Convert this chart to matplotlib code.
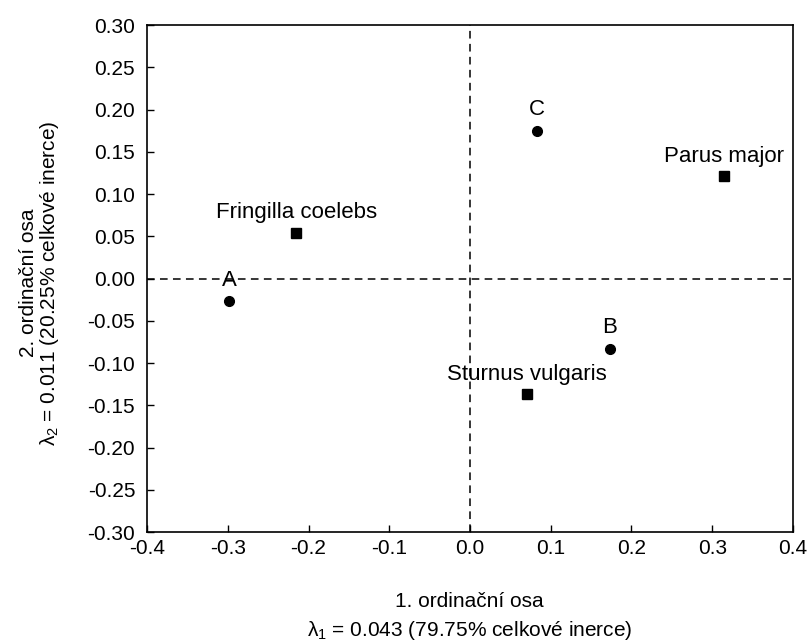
import matplotlib
matplotlib.use("Agg")
import matplotlib.pyplot as plt

plt.rcParams["font.family"] = ["Liberation Sans", "DejaVu Sans"]
plt.rcParams["mathtext.fontset"] = "custom"
plt.rcParams["mathtext.rm"] = "Liberation Sans"
plt.rcParams["mathtext.it"] = "Liberation Sans"

# samples (circles)
site_names = ["A", "B", "C"]
site_x = [-0.298, 0.173, 0.083]
site_y = [-0.027, -0.083, 0.175]

# species (squares)
species_names = ["Fringilla coelebs", "Parus major", "Sturnus vulgaris"]
species_x = [-0.215, 0.315, 0.071]
species_y = [0.054, 0.121, -0.137]

x_ticks = [-0.4, -0.3, -0.2, -0.1, 0.0, 0.1, 0.2, 0.3, 0.4]
y_ticks = [-0.30, -0.25, -0.20, -0.15, -0.10, -0.05, 0.00, 0.05, 0.10, 0.15, 0.20, 0.25, 0.30]

fig = plt.figure(figsize=(8.1, 6.43), dpi=100)
ax = fig.add_axes([0.1815, 0.1726, 0.7975, 0.7884])

# reference lines through origin
ax.axhline(0, color="black", linestyle=(0, (5, 3.5)), linewidth=1.1, zorder=1)
ax.axvline(0, color="black", linestyle=(0, (5, 3.5)), linewidth=1.1, zorder=1)

ax.plot(site_x, site_y, "o", color="black", markersize=7, zorder=3)
ax.plot(species_x, species_y, "s", color="black", markersize=7.5, zorder=3)

for name, x, y in zip(site_names, site_x, site_y):
    ax.annotate(name, (x, y), xytext=(0, 15), textcoords="offset points",
                ha="center", va="center", fontsize=16)
for name, x, y in zip(species_names, species_x, species_y):
    ax.annotate(name, (x, y), xytext=(0, 14.5), textcoords="offset points",
                ha="center", va="center", fontsize=16)

ax.set_xlim(-0.4, 0.4)
ax.set_ylim(-0.30, 0.30)
ax.set_xticks(x_ticks)
ax.set_yticks(y_ticks)
ax.set_xticklabels([f"{v:.1f}" for v in x_ticks])
ax.set_yticklabels([f"{v:.2f}" for v in y_ticks])
ax.tick_params(direction="in", length=5, width=1, labelsize=15)
ax.tick_params(axis="y", pad=8.5)
ax.tick_params(axis="x", pad=5)
for s in ax.spines.values():
    s.set_linewidth(1.2)

# axis titles, two lines each
fig.text(0.580, 0.0653, "1. ordinační osa", ha="center", va="center", fontsize=15)
fig.text(0.580, 0.0202, "$\\lambda_1$ = 0.043 (79.75% celkové inerce)",
         ha="center", va="center", fontsize=15)
fig.text(0.0346, 0.56, "2. ordinační osa", ha="center", va="center",
         rotation=90, fontsize=15)
fig.text(0.0617, 0.56, "$\\lambda_2$ = 0.011 (20.25% celkové inerce)",
         ha="center", va="center", rotation=90, fontsize=15)

fig.savefig("out.png", dpi=100)
